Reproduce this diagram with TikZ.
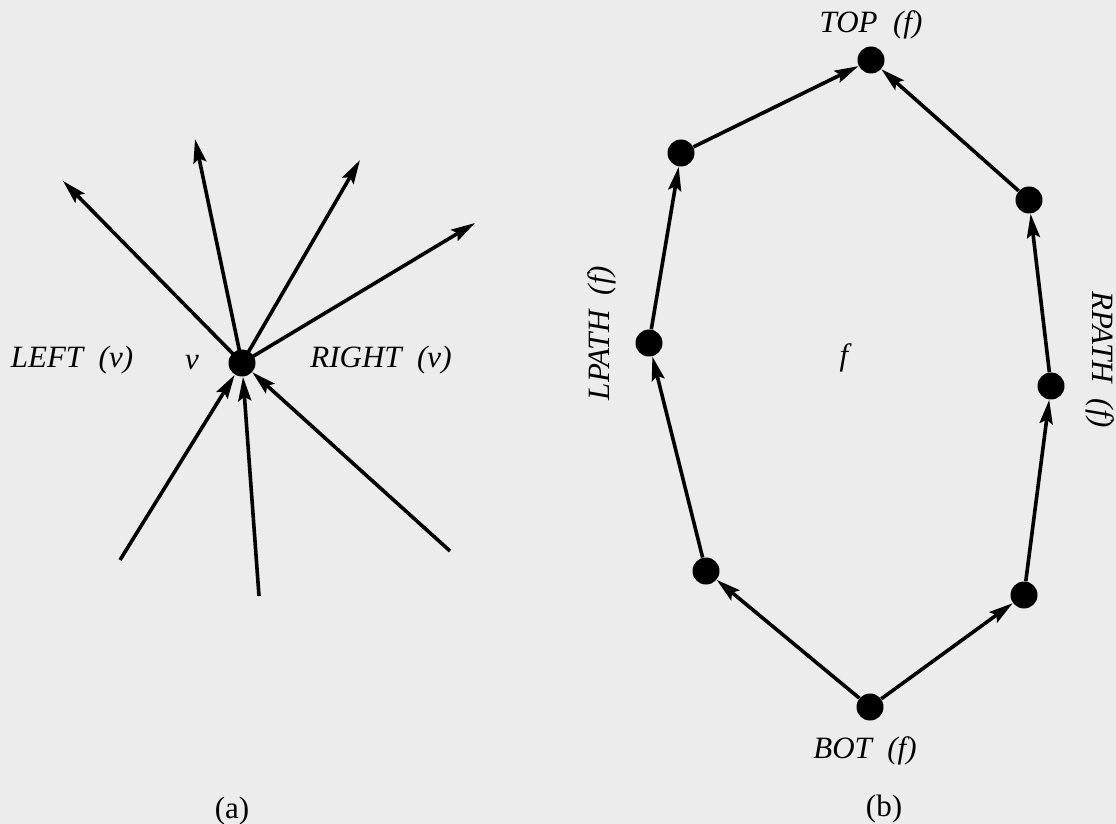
\documentclass[tikz,border=0pt]{standalone}
\usepackage{fontspec}
\setmainfont{Liberation Serif}
\usetikzlibrary{arrows.meta}
\definecolor{paper}{RGB}{236,236,236}
\tikzset{
  dot/.style={circle,fill=black,draw=none,inner sep=0pt,minimum size=13.5pt},
  edge/.style={line width=1.8pt,-{Stealth[length=12pt,width=6.5pt,inset=2pt]}},
  lab/.style={font=\fontsize{15.5}{18}\selectfont\itshape,inner sep=0pt,anchor=base},
  captionlab/.style={font=\fontsize{15.5}{18}\selectfont,inner sep=0pt,anchor=base}
}
\begin{document}
\begin{tikzpicture}[x=0.5pt,y=-0.5pt]
\fill[paper] (0,0) rectangle (1116,824);
\useasboundingbox (0,0) rectangle (1116,824);
% panel (a)
\node[dot] (v) at (242,363) {};
\coordinate (o1) at (63,181);
\coordinate (o2) at (195,139);
\coordinate (o3) at (360,160);
\coordinate (o4) at (475,223);
\coordinate (i1) at (120,560);
\coordinate (i2) at (259,596);
\coordinate (i3) at (450,551);
\draw[edge,shorten <=-6pt] (v.center) -- (o1);
\draw[edge,shorten <=-6pt] (v.center) -- (o2);
\draw[edge,shorten <=-6pt] (v.center) -- (o3);
\draw[edge,shorten <=-6pt] (v.center) -- (o4);
\draw[edge] (i1) -- (v);
\draw[edge] (i2) -- (v);
\draw[edge] (i3) -- (v);
\node[lab] (left) at (72,367) {LEFT\ \ (v)};
\node[lab] (vl) at (192,370) {v};
\node[lab] (right) at (381,368) {RIGHT\ \ (v)};
\node[captionlab] (a) at (232,818) {(a)};
% panel (b)
\node[dot] (top) at (871,60) {};
\node[dot] (ul) at (681,153) {};
\node[dot] (ml) at (649,343) {};
\node[dot] (ll) at (706,571) {};
\node[dot] (bot) at (870,707) {};
\node[dot] (lr) at (1024,595) {};
\node[dot] (mr) at (1051,386) {};
\node[dot] (ur) at (1029,200) {};
\draw[edge] (bot) -- (ll);
\draw[edge] (ll) -- (ml);
\draw[edge] (ml) -- (ul);
\draw[edge] (ul) -- (top);
\draw[edge] (bot) -- (lr);
\draw[edge] (lr) -- (mr);
\draw[edge] (mr) -- (ur);
\draw[edge] (ur) -- (top);
\node[lab] (toplab) at (871,33) {TOP\ \ (f)};
\node[lab] (botlab) at (865,758) {BOT\ \ (f)};
\node[lab] (flab) at (844,365) {f};
\node[lab,anchor=center,rotate=90] (lpath) at (602,333) {LPATH\ \ (f)};
\node[lab,anchor=center,rotate=-90] (rpath) at (1100,360) {RPATH\ \ (f)};
\node[captionlab] (b) at (884,816) {(b)};
\end{tikzpicture}
\end{document}
